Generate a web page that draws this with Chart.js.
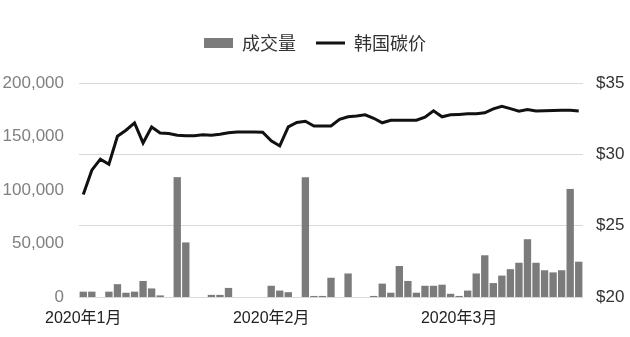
<!DOCTYPE html>
<html>
<head>
<meta charset="utf-8">
<script src="https://cdn.jsdelivr.net/npm/chart.js@4"></script>
<style>
  html, body { margin: 0; padding: 0; background: #ffffff; }
  canvas { display: block; }
</style>
</head>
<body>
<canvas id="chart" width="630" height="337"></canvas>
<script>
// Series names shown in the legend
const seriesNames = ['成交量', '韩国碳价'];

// Month labels and the trading-day index where each month starts
const monthLabels = ['2020年1月', '2020年2月', '2020年3月'];
const monthStartIndex = [0, 22, 44];

// Daily traded volume (tonnes)
const volume = [
  5000, 5000, 0, 5000, 12000, 4000, 5000, 15000, 8000, 1500, 0, 112000, 51000,
  0, 0, 2000, 2000, 8500, 0, 0, 0, 0,
  10500, 6000, 4500, 0, 112000, 1000, 1000, 18000,
  0, 22000, 0, 0,
  1000, 12500, 4000, 29000, 15000, 4000, 10500, 10500, 11500, 3000, 1000, 6000,
  22000, 39000, 13000, 20000, 26000, 32000, 54000, 32000, 25000, 23000, 25000, 101000, 33000
];

// Daily Korean allowance price (USD)
const price = [
  27.19, 28.89, 29.66, 29.31, 31.27, 31.69, 32.20, 30.80, 31.92, 31.50, 31.46, 31.34, 31.30,
  31.30, 31.37, 31.34, 31.41, 31.51, 31.57, 31.57, 31.57, 31.55,
  30.95, 30.59, 31.92, 32.23, 32.32, 31.99, 31.99, 31.99,
  32.46, 32.63, 32.69, 32.77,
  32.53, 32.21, 32.39, 32.39, 32.39, 32.39, 32.60, 33.05, 32.63, 32.77, 32.80, 32.84,
  32.84, 32.91, 33.19, 33.37, 33.20, 33.02, 33.14, 33.04, 33.05, 33.07, 33.09, 33.09, 33.04
];

// Axis tick values
const volumeTicks = [0, 50000, 100000, 150000, 200000];
const priceTicks = [20, 25, 30, 35];

// One category per trading day; only month starts carry a label
const categories = volume.map((_, i) => {
  const k = monthStartIndex.indexOf(i);
  return k >= 0 ? monthLabels[k] : '';
});

const numFont = '"Liberation Sans", "Noto Sans CJK SC", sans-serif';
const cjkFont = '"Liberation Sans", "Noto Sans CJK SC", sans-serif';

// Keeps the legend band a fixed height so the plot starts at the same place
const legendBand = {
  id: 'legendBand',
  beforeLayout(chart) {
    const lg = chart.legend;
    if (lg && !lg._bandFixed) {
      const fit = lg.fit.bind(lg);
      lg.fit = function () { fit(); this.height = 69; };
      lg._bandFixed = true;
    }
  }
};

new Chart(document.getElementById('chart'), {
  data: {
    labels: categories,
    datasets: [
      {
        type: 'bar',
        label: seriesNames[0],
        data: volume,
        yAxisID: 'yVol',
        backgroundColor: '#7b7b7b',
        borderWidth: 0,
        categoryPercentage: 1.0,
        barPercentage: 0.86,
        pointStyle: 'rect',
        order: 2
      },
      {
        type: 'line',
        label: seriesNames[1],
        data: price,
        yAxisID: 'yPrice',
        borderColor: '#111111',
        backgroundColor: '#111111',
        borderWidth: 3,
        tension: 0,
        pointRadius: 0,
        pointStyle: 'line',
        fill: false,
        order: 1
      }
    ]
  },
  options: {
    responsive: false,
    animation: false,
    layout: { padding: { top: 14, left: 0, right: 0, bottom: 0 } },
    plugins: {
      tooltip: { enabled: false },
      legend: {
        position: 'top',
        labels: {
          usePointStyle: true,
          pointStyleWidth: 29,
          boxHeight: 10,
          padding: 20,
          color: '#333333',
          font: { family: '"Noto Sans CJK SC", sans-serif', size: 18 },
          sort: (a, b) => a.datasetIndex - b.datasetIndex
        }
      }
    },
    scales: {
      x: {
        type: 'category',
        offset: true,
        grid: { display: false, drawTicks: false },
        border: { display: false },
        afterFit(scale) { scale.height = 40; },
        ticks: {
          autoSkip: false,
          maxRotation: 0,
          minRotation: 0,
          padding: 12,
          color: '#222222',
          font: { family: cjkFont, size: 16 },
          callback: (v, i) => categories[i]
        }
      },
      yVol: {
        position: 'left',
        min: volumeTicks[0],
        max: volumeTicks[volumeTicks.length - 1],
        grid: { display: false, drawTicks: false },
        border: { display: false },
        afterFit(scale) { scale.width = 79; },
        afterBuildTicks(scale) { scale.ticks = volumeTicks.map(v => ({ value: v })); },
        ticks: {
          padding: 15,
          color: '#808080',
          font: { family: numFont, size: 17 },
          callback: v => v.toLocaleString('en-US')
        }
      },
      yPrice: {
        position: 'right',
        min: priceTicks[0],
        max: priceTicks[priceTicks.length - 1],
        grid: { color: '#d9d9d9', lineWidth: 1, drawTicks: false },
        border: { display: false },
        afterFit(scale) { scale.width = 47; },
        afterBuildTicks(scale) { scale.ticks = priceTicks.map(v => ({ value: v })); },
        ticks: {
          padding: 13,
          color: '#333333',
          font: { family: numFont, size: 17 },
          callback: v => '$' + v
        }
      }
    }
  },
  plugins: [legendBand]
});
</script>
</body>
</html>
